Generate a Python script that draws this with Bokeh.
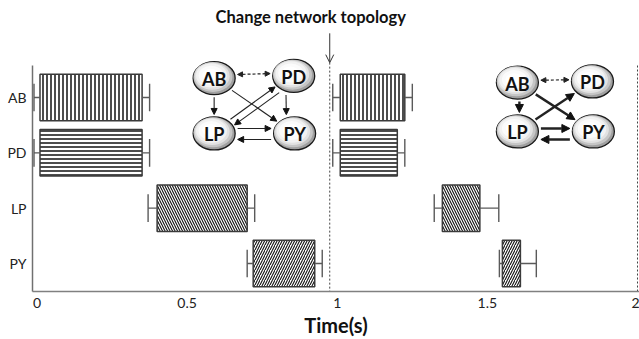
import numpy as np
from bokeh.plotting import figure
from bokeh.models import (ColumnDataSource, FixedTicker, Arrow, NormalHead,
                          OpenHead, Title, Range1d)
from bokeh.core.properties import value
from bokeh.embed import file_html
from bokeh.resources import INLINE

# ---------------- data ----------------
neurons = ["AB", "PD", "LP", "PY"]
ypos = [4, 3, 2, 1]

# burst timing before the topology change
start_1 = [0.01, 0.01, 0.40, 0.72]
end_1 = [0.35, 0.35, 0.70, 0.925]
err_left_1 = [0.02, 0.02, 0.03, 0.02]
err_right_1 = [0.025, 0.025, 0.025, 0.025]

# burst timing after the topology change
start_2 = [1.01, 1.01, 1.35, 1.55]
end_2 = [1.225, 1.20, 1.475, 1.61]
err_left_2 = [0.025, 0.025, 0.027, 0.01]
err_right_2 = [0.025, 0.025, 0.063, 0.053]

change_time = 0.975
period_end = 2.0
x_ticks = [0, 0.5, 1, 1.5, 2]
x_tick_labels = ["0", "0.5", "1", "1.5", "2"]
hatches = ["vertical_line", "horizontal_line", "left_diagonal_line", "right_diagonal_line"]

# network diagrams (node positions in plot coordinates)
net_nodes = ["AB", "PD", "LP", "PY"]
net1_x = [0.59, 0.855, 0.59, 0.858]
net1_y = [4.35, 4.39, 3.35, 3.35]
net2_x = [1.60, 1.85, 1.60, 1.853]
net2_y = [4.27, 4.29, 3.386, 3.386]
net1_src = ["AB", "AB", "AB", "LP", "PD", "PD", "LP", "PY"]
net1_dst = ["PD", "LP", "PY", "PD", "LP", "PY", "PY", "LP"]
net1_type = ["gap", "chem", "chem", "chem", "chem", "chem", "chem", "chem"]
net2_src = ["AB", "AB", "AB", "LP", "LP", "PY"]
net2_dst = ["PD", "LP", "PY", "PD", "PY", "LP"]
net2_type = ["gap", "chem", "chem", "chem", "chem", "chem"]

# ---------------- layout ----------------
W, H = 639, 339
LEFT, BOTTOM = 32, 48
FW, FH = W - LEFT, H - BOTTOM
X0 = -0.015
SX = 300.25
X1 = X0 + FW / SX
Y0, Y1 = 0.494, 5.753
SY = FH / (Y1 - Y0)
AXIS_TOP = 4.578

p = figure(width=W, height=H, output_backend="svg", toolbar_location=None,
           x_range=Range1d(X0, X1), y_range=Range1d(Y0, Y1),
           min_border_left=LEFT, min_border_right=0, min_border_top=0,
           min_border_bottom=BOTTOM, title=None)
p.outline_line_color = None
p.grid.visible = False
p.background_fill_color = "white"
p.border_fill_color = "white"

FONT = "Lato"

# axes
p.xaxis.ticker = FixedTicker(ticks=x_ticks)
p.xaxis.major_label_overrides = {t: l for t, l in zip(x_ticks, x_tick_labels)}
p.xaxis.major_tick_out = 0
p.xaxis.major_tick_in = 0
p.xaxis.minor_tick_line_color = None
p.xaxis.axis_line_color = "#808080"
p.xaxis.axis_line_width = 1.5
p.xaxis.major_label_text_font = FONT
p.xaxis.major_label_text_font_size = "14px"
p.xaxis.major_label_text_color = "#222"
p.xaxis.major_label_standoff = 6

p.yaxis.ticker = FixedTicker(ticks=ypos)
p.yaxis.major_label_overrides = {y: n for y, n in zip(ypos, neurons)}
p.yaxis.major_tick_out = 0
p.yaxis.major_tick_in = 0
p.yaxis.minor_tick_line_color = None
p.yaxis.axis_line_color = "#707070"
p.yaxis.axis_line_width = 1.5
p.yaxis.bounds = (Y0, AXIS_TOP)
p.yaxis.major_label_text_font = FONT
p.yaxis.major_label_text_font_size = "14px"
p.yaxis.major_label_text_color = "#222"
p.yaxis.major_label_standoff = 6

p.add_layout(Title(text="Time(s)", align="center", offset=10, text_font=FONT,
                   text_font_size="20px", text_font_style="bold",
                   text_color="#111", standoff=0), "below")

# bars
BAR_H = 0.84
CAP = 0.25
hatch_scales = [4, 4, 5, 5]
hatch_weights = [1.5, 1.5, 1.1, 1.1]
for st, en, el, er in [(start_1, end_1, err_left_1, err_right_1),
                       (start_2, end_2, err_left_2, err_right_2)]:
    st, en, el, er = map(np.array, (st, en, el, er))
    src = ColumnDataSource(dict(y=ypos, left=st, right=en, hatch=hatches,
                                hs=hatch_scales, hw=hatch_weights))
    p.hbar(y="y", left="left", right="right", height=BAR_H, source=src,
           fill_color="white", line_color="#3a3a3a", line_width=1.5,
           hatch_pattern="hatch", hatch_color="#111", hatch_scale="hs",
           hatch_weight="hw")
    yv = np.array(ypos, dtype=float)
    lo = st - el
    hi = en + er
    # whiskers
    p.segment(x0=np.concatenate([lo, en]), y0=np.concatenate([yv, yv]),
              x1=np.concatenate([st, hi]), y1=np.concatenate([yv, yv]),
              line_color="#5a5a5a", line_width=1.4)
    # caps
    p.segment(x0=np.concatenate([lo, hi]), y0=np.concatenate([yv - CAP, yv - CAP]),
              x1=np.concatenate([lo, hi]), y1=np.concatenate([yv + CAP, yv + CAP]),
              line_color="#5a5a5a", line_width=1.4)

# change marker
ARROW_TOP, ARROW_BOT = 5.16, 4.63
p.add_layout(Arrow(end=OpenHead(size=8, line_width=1, line_color="#333"),
                   x_start=change_time, y_start=ARROW_TOP,
                   x_end=change_time, y_end=ARROW_BOT,
                   line_width=1, line_color="#333"))
p.segment(x0=[change_time, period_end], y0=[ARROW_BOT, AXIS_TOP],
          x1=[change_time, period_end], y1=[Y0, Y0],
          line_color="#444", line_width=1, line_dash="2 2")
p.text(x=[change_time], y=[5.45], text=["Change network topology"],
       text_font=value(FONT), text_font_style="bold", text_font_size="16.5px",
       text_align="center", text_baseline="middle", x_offset=-19,
       text_color="#111")

# ---------------- networks ----------------
EA, EB = 21.0, 16.5


def to_px(x, y):
    return ((x - X0) * SX, (Y1 - y) * SY)


def to_data(u, v):
    return (X0 + u / SX, Y1 - v / SY)


layers = [(42, 33, 0.0, "#a0a0a0"), (39, 30, 1.2, "#c6c6c6"),
          (35, 27, 2.0, "#e2e2e2"), (31, 24, 2.6, "#f2f2f2"),
          (25, 19, 3.0, "#fbfbfb"), (17, 12, 3.4, "#ffffff")]


def draw_net(xs, ys, srcs, dsts, types, offsets, thick):
    xs = np.array(xs); ys = np.array(ys)
    for i, (w, h, off, col) in enumerate(layers):
        p.ellipse(x=xs - off / SX, y=ys + off / SY, width=w, height=h,
                  width_units="screen", height_units="screen",
                  fill_color=col, line_color="#1a1a1a" if i == 0 else None,
                  line_width=1.3)
    p.text(x=xs, y=ys, text=net_nodes, text_font=value(FONT),
           text_font_style="bold", text_font_size="18px", text_align="center",
           text_baseline="middle", text_color="#111", y_offset=1)
    idx = {n: i for i, n in enumerate(net_nodes)}
    for s, d, t, o in zip(srcs, dsts, types, offsets):
        u1, v1 = to_px(xs[idx[s]], ys[idx[s]])
        u2, v2 = to_px(xs[idx[d]], ys[idx[d]])
        du, dv = u2 - u1, v2 - v1
        L = np.hypot(du, dv)
        du, dv = du / L, dv / L
        nu, nv = -dv, du
        r = EA * EB / np.sqrt((EB * du) ** 2 + (EA * dv) ** 2) + 2.5
        xs0, ys0 = to_data(u1 + nu * o + du * r, v1 + nv * o + dv * r)
        xe0, ye0 = to_data(u2 + nu * o - du * r, v2 + nv * o - dv * r)
        if t == "gap":
            p.add_layout(Arrow(start=NormalHead(size=5, fill_color="#222", line_color="#222", line_width=1),
                               end=NormalHead(size=5, fill_color="#222", line_color="#222", line_width=1),
                               x_start=xs0, y_start=ys0, x_end=xe0, y_end=ye0,
                               line_color="#222", line_width=1.2, line_dash="3 2"))
        else:
            lw = 2.4 if thick else 1.1
            hs = 8 if thick else 6
            p.add_layout(Arrow(end=NormalHead(size=hs, fill_color="#111", line_color="#111", line_width=1),
                               x_start=xs0, y_start=ys0, x_end=xe0, y_end=ye0,
                               line_color="#222", line_width=lw))


draw_net(net1_x, net1_y, net1_src, net1_dst, net1_type,
         [-3, 0, 0, -2, -5, 8, -5, -6], thick=False)
draw_net(net2_x, net2_y, net2_src, net2_dst, net2_type,
         [-2, -2, 0, 0, -3, -8], thick=True)

open("out.html", "w").write(file_html(p, INLINE))
